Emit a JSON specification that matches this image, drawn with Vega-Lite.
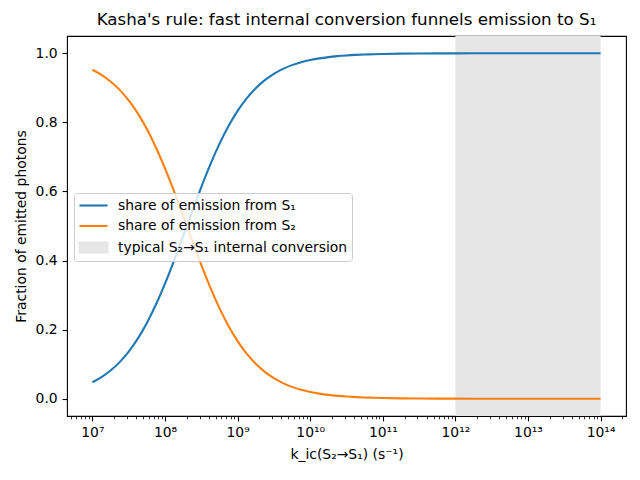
{
  "$schema": "https://vega.github.io/schema/vega-lite/v6.json",
  "autosize": {"type": "none"},
  "padding": {"left": 67, "top": 36, "right": 14, "bottom": 64},
  "width": 559,
  "height": 380,
  "title": {
    "text": "Kasha's rule: fast internal conversion funnels emission to S₁",
    "fontSize": 16.7,
    "fontWeight": "normal",
    "color": "black",
    "anchor": "middle",
    "offset": 7
  },
  "config": {
    "font": "DejaVu Sans",
    "background": "white",
    "view": {"stroke": "black", "strokeWidth": 1.1},
    "axis": {
      "domain": false,
      "grid": false,
      "tickColor": "black",
      "tickWidth": 1.1,
      "tickSize": 4.9,
      "labelPadding": 4.9,
      "labelFontSize": 13.9,
      "labelColor": "black",
      "titleFontSize": 13.9,
      "titleFontWeight": "normal",
      "titleColor": "black"
    }
  },
  "layer": [
    {
      "data": {"values": [{"start": 1e12, "end": 1e14, "key": "band"}]},
      "mark": {"type": "rect"},
      "encoding": {
        "x": {
          "field": "start",
          "type": "quantitative",
          "scale": {"type": "log", "domain": [4467000, 223900000000000], "nice": false},
          "axis": {
            "orient": "bottom",
            "values": [5e6, 6e6, 7e6, 8e6, 9e6,
              2e7, 3e7, 4e7, 5e7, 6e7, 7e7, 8e7, 9e7,
              2e8, 3e8, 4e8, 5e8, 6e8, 7e8, 8e8, 9e8,
              2e9, 3e9, 4e9, 5e9, 6e9, 7e9, 8e9, 9e9,
              2e10, 3e10, 4e10, 5e10, 6e10, 7e10, 8e10, 9e10,
              2e11, 3e11, 4e11, 5e11, 6e11, 7e11, 8e11, 9e11,
              2e12, 3e12, 4e12, 5e12, 6e12, 7e12, 8e12, 9e12,
              2e13, 3e13, 4e13, 5e13, 6e13, 7e13, 8e13, 9e13,
              2e14],
            "labels": false,
            "tickSize": 2.8,
            "tickWidth": 0.8,
            "title": null
          }
        },
        "x2": {"field": "end"},
        "color": {
          "field": "key",
          "type": "nominal",
          "scale": {"domain": ["s1", "s2", "band"], "range": ["#1f77b4", "#ff7f0e", "#e6e6e6"]},
          "legend": {
            "orient": "none",
            "legendX": 7,
            "legendY": 157,
            "title": null,
            "padding": 4,
            "rowPadding": 4.5,
            "symbolSize": 196,
            "labelOffset": 23,
            "labelFontSize": 13.9,
            "labelColor": "black",
            "labelLimit": 0,
            "strokeColor": "#cccccc",
            "fillColor": "rgba(255,255,255,0.8)",
            "cornerRadius": 3,
            "labelExpr": "datum.value == 's1' ? 'share of emission from S₁' : datum.value == 's2' ? 'share of emission from S₂' : 'typical S₂→S₁ internal conversion'",
            "encode": {
              "symbols": {
                "update": {
                  "shape": {"signal": "datum.value == 'band' ? 'M-1,-0.7H3V0.7H-1Z' : 'M-1,0H3'"},
                  "fill": {"signal": "datum.value == 'band' ? '#e6e6e6' : 'transparent'"},
                  "stroke": {"signal": "datum.value == 's1' ? '#1f77b4' : datum.value == 's2' ? '#ff7f0e' : 'transparent'"},
                  "strokeWidth": {"value": 2.1},
                  "opacity": {"value": 1}
                }
              }
            }
          }
        }
      }
    },
    {
      "data": {
        "values": [
          {"k": 1e7, "s1": 0.04762, "s2": 0.95238},
          {"k": 1.3335e7, "s1": 0.0625, "s2": 0.9375},
          {"k": 1.7783e7, "s1": 0.08165, "s2": 0.91835},
          {"k": 2.3714e7, "s1": 0.106, "s2": 0.894},
          {"k": 3.1623e7, "s1": 0.13653, "s2": 0.86347},
          {"k": 4.217e7, "s1": 0.17411, "s2": 0.82589},
          {"k": 5.6234e7, "s1": 0.21946, "s2": 0.78054},
          {"k": 7.4989e7, "s1": 0.27268, "s2": 0.72732},
          {"k": 1e8, "s1": 0.33333, "s2": 0.66667},
          {"k": 1.3335e8, "s1": 0.4, "s2": 0.6},
          {"k": 1.7783e8, "s1": 0.47065, "s2": 0.52935},
          {"k": 2.3714e8, "s1": 0.54248, "s2": 0.45752},
          {"k": 3.1623e8, "s1": 0.61258, "s2": 0.38742},
          {"k": 4.217e8, "s1": 0.67827, "s2": 0.32173},
          {"k": 5.6234e8, "s1": 0.73765, "s2": 0.26235},
          {"k": 7.4989e8, "s1": 0.78943, "s2": 0.21057},
          {"k": 1e9, "s1": 0.83333, "s2": 0.16667},
          {"k": 1.3335e9, "s1": 0.86957, "s2": 0.13043},
          {"k": 1.7783e9, "s1": 0.8989, "s2": 0.1011},
          {"k": 2.3714e9, "s1": 0.92222, "s2": 0.07778},
          {"k": 3.1623e9, "s1": 0.94052, "s2": 0.05948},
          {"k": 4.217e9, "s1": 0.95471, "s2": 0.04529},
          {"k": 5.6234e9, "s1": 0.96566, "s2": 0.03434},
          {"k": 7.4989e9, "s1": 0.97402, "s2": 0.02598},
          {"k": 1e10, "s1": 0.98039, "s2": 0.01961},
          {"k": 1.3335e10, "s1": 0.98522, "s2": 0.01478},
          {"k": 1.7783e10, "s1": 0.98888, "s2": 0.01112},
          {"k": 2.3714e10, "s1": 0.99164, "s2": 0.00836},
          {"k": 3.1623e10, "s1": 0.99372, "s2": 0.00628},
          {"k": 4.217e10, "s1": 0.99528, "s2": 0.00472},
          {"k": 5.6234e10, "s1": 0.99646, "s2": 0.00354},
          {"k": 7.4989e10, "s1": 0.99734, "s2": 0.00266},
          {"k": 1e11, "s1": 0.998, "s2": 0.002},
          {"k": 1.7783e11, "s1": 0.99888, "s2": 0.00112},
          {"k": 3.1623e11, "s1": 0.99937, "s2": 0.00063},
          {"k": 5.6234e11, "s1": 0.99964, "s2": 0.00036},
          {"k": 1e12, "s1": 0.9998, "s2": 0.0002},
          {"k": 3.1623e12, "s1": 0.99994, "s2": 0.00006},
          {"k": 1e13, "s1": 0.99998, "s2": 0.00002},
          {"k": 3.1623e13, "s1": 0.99999, "s2": 0.00001},
          {"k": 1e14, "s1": 1.0, "s2": 0.0}
        ]
      },
      "transform": [{"fold": ["s1", "s2"], "as": ["key", "share"]}],
      "mark": {"type": "line", "strokeWidth": 2.1, "interpolate": "monotone"},
      "encoding": {
        "x": {
          "field": "k",
          "type": "quantitative",
          "scale": {"type": "log", "domain": [4467000, 223900000000000], "nice": false},
          "axis": {
            "orient": "bottom",
            "values": [1e7, 1e8, 1e9, 1e10, 1e11, 1e12, 1e13, 1e14],
            "labelExpr": "'10' + (datum.value < 1.5e7 ? '⁷' : datum.value < 1.5e8 ? '⁸' : datum.value < 1.5e9 ? '⁹' : datum.value < 1.5e10 ? '¹⁰' : datum.value < 1.5e11 ? '¹¹' : datum.value < 1.5e12 ? '¹²' : datum.value < 1.5e13 ? '¹³' : '¹⁴')",
            "labelFlush": false,
            "title": "k_ic(S₂→S₁) (s⁻¹)",
            "titlePadding": 8
          }
        },
        "y": {
          "field": "share",
          "type": "quantitative",
          "scale": {"domain": [-0.05, 1.05], "nice": false, "zero": false},
          "axis": {
            "values": [0, 0.2, 0.4, 0.6, 0.8, 1.0],
            "format": ".1f",
            "title": "Fraction of emitted photons",
            "titlePadding": 7
          }
        },
        "color": {
          "field": "key",
          "type": "nominal",
          "scale": {"domain": ["s1", "s2", "band"], "range": ["#1f77b4", "#ff7f0e", "#e6e6e6"]},
          "legend": {
            "orient": "none",
            "legendX": 7,
            "legendY": 157,
            "title": null,
            "padding": 4,
            "rowPadding": 4.5,
            "symbolSize": 196,
            "labelOffset": 23,
            "labelFontSize": 13.9,
            "labelColor": "black",
            "labelLimit": 0,
            "strokeColor": "#cccccc",
            "fillColor": "rgba(255,255,255,0.8)",
            "cornerRadius": 3,
            "labelExpr": "datum.value == 's1' ? 'share of emission from S₁' : datum.value == 's2' ? 'share of emission from S₂' : 'typical S₂→S₁ internal conversion'",
            "encode": {
              "symbols": {
                "update": {
                  "shape": {"signal": "datum.value == 'band' ? 'M-1,-0.7H3V0.7H-1Z' : 'M-1,0H3'"},
                  "fill": {"signal": "datum.value == 'band' ? '#e6e6e6' : 'transparent'"},
                  "stroke": {"signal": "datum.value == 's1' ? '#1f77b4' : datum.value == 's2' ? '#ff7f0e' : 'transparent'"},
                  "strokeWidth": {"value": 2.1},
                  "opacity": {"value": 1}
                }
              }
            }
          }
        }
      }
    }
  ],
  "resolve": {"axis": {"x": "independent"}}
}
